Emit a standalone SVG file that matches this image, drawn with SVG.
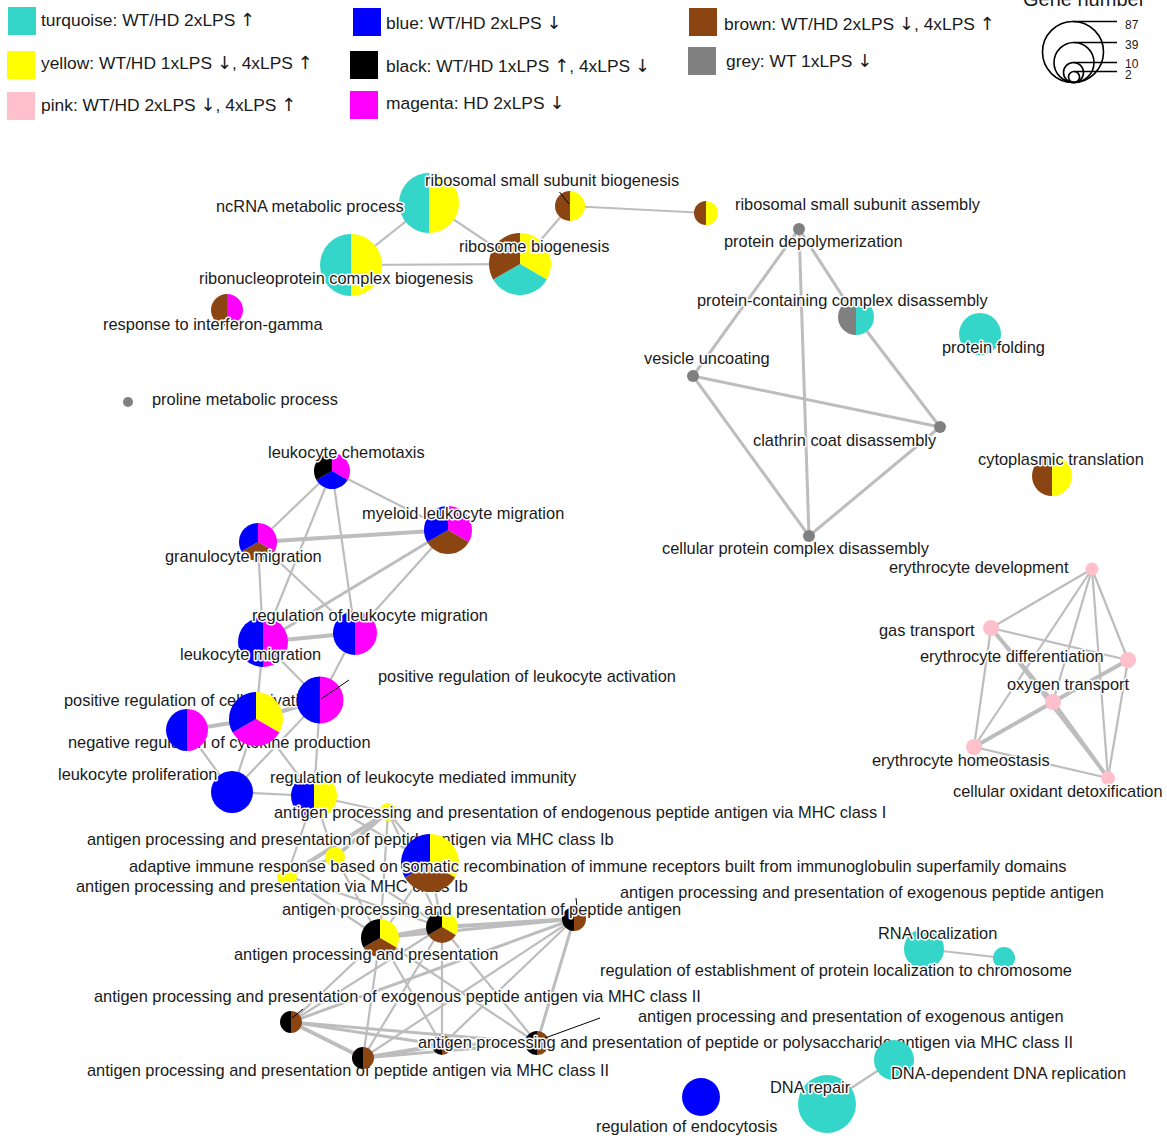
<svg xmlns="http://www.w3.org/2000/svg" width="1167" height="1136" viewBox="0 0 1167 1136">
<style>
text{font-family:"Liberation Sans",Arial,sans-serif;fill:#1a1a1a}
.lb{font-size:16.4px;stroke:#fff;stroke-width:3px;stroke-linejoin:round;paint-order:stroke}
.lg{font-size:17.4px}
.ar{font-family:"DejaVu Sans",sans-serif;font-size:18px}
.tq{fill:#33D6C8}.ye{fill:#FFFF00}.pk{fill:#FFC0CB}.bl{fill:#0000FF}.bk{fill:#000000}.mg{fill:#FF00FF}.br{fill:#8B4513}.gy{fill:#808080}
#edges line{stroke:#BDBDBD;stroke-width:2.2;stroke-linecap:round}
#edges line.t{stroke-width:4}
#edges line.m{stroke-width:3}
.ld{stroke:#000;stroke-width:1}
.gc{fill:none;stroke:#000;stroke-width:1.6}
.gl{stroke:#000;stroke-width:1.4}
</style>
<defs>
<circle id="c" r="1"/>
<path id="hl" d="M0,1A1,1 0 0 1 0,-1Z"/>
<path id="hr" d="M0,-1A1,1 0 0 1 0,1Z"/>
<path id="s1" d="M0,0L0,-1A1,1 0 0 1 .866,.5Z"/>
<path id="s2" d="M0,0L.866,.5A1,1 0 0 1 -.866,.5Z"/>
<path id="s3" d="M0,0L-.866,.5A1,1 0 0 1 0,-1Z"/>
</defs>
<rect width="1167" height="1136" fill="#fff"/>

<g id="legend">
<rect x="8" y="7" width="28" height="28" class="tq"/><text class="lg" x="41" y="26">turquoise: WT/HD 2xLPS <tspan class="ar">↑</tspan></text>
<rect x="7" y="51" width="28" height="28" class="ye"/><text class="lg" x="41" y="69">yellow: WT/HD 1xLPS <tspan class="ar">↓</tspan>, 4xLPS <tspan class="ar">↑</tspan></text>
<rect x="7" y="92" width="28" height="28" class="pk"/><text class="lg" x="41" y="111">pink: WT/HD 2xLPS <tspan class="ar">↓</tspan>, 4xLPS <tspan class="ar">↑</tspan></text>
<rect x="353" y="8" width="28" height="28" class="bl"/><text class="lg" x="386" y="29">blue: WT/HD 2xLPS <tspan class="ar">↓</tspan></text>
<rect x="350" y="51" width="28" height="28" class="bk"/><text class="lg" x="386" y="72">black: WT/HD 1xLPS <tspan class="ar">↑</tspan>, 4xLPS <tspan class="ar">↓</tspan></text>
<rect x="350" y="91" width="28" height="28" class="mg"/><text class="lg" x="386" y="109">magenta: HD 2xLPS <tspan class="ar">↓</tspan></text>
<rect x="689" y="8" width="28" height="28" class="br"/><text class="lg" x="724" y="30">brown: WT/HD 2xLPS <tspan class="ar">↓</tspan>, 4xLPS <tspan class="ar">↑</tspan></text>
<rect x="688" y="47" width="28" height="28" class="gy"/><text class="lg" x="726" y="67">grey: WT 1xLPS <tspan class="ar">↓</tspan></text>
</g>

<g id="size-legend">
<text x="1023" y="6" style="font-size:20px">Gene number</text>
<circle class="gc" cx="1073" cy="52" r="30.5"/>
<circle class="gc" cx="1074" cy="62.5" r="20"/>
<circle class="gc" cx="1073.5" cy="72.5" r="10"/>
<circle class="gc" cx="1074" cy="77" r="5.5"/>
<line class="gl" x1="1073" y1="21.5" x2="1117" y2="21.5"/>
<line class="gl" x1="1074" y1="42.5" x2="1117" y2="42.5"/>
<line class="gl" x1="1073.5" y1="62.5" x2="1117" y2="62.5"/>
<line class="gl" x1="1074" y1="71.5" x2="1117" y2="71.5"/>
<text x="1125" y="29" style="font-size:12px">87</text>
<text x="1125" y="49" style="font-size:12px">39</text>
<text x="1125" y="68" style="font-size:12px">10</text>
<text x="1125" y="79" style="font-size:12px">2</text>
</g>

<g id="edges">
<line x1="429" y1="203" x2="351" y2="265"/>
<line x1="429" y1="203" x2="520" y2="264"/>
<line x1="351" y1="265" x2="520" y2="264"/>
<line x1="520" y1="264" x2="570" y2="206"/>
<line x1="570" y1="206" x2="706" y2="213"/>

<line class="m" x1="799" y1="229" x2="693" y2="376"/>
<line class="m" x1="799" y1="229" x2="809" y2="536"/>
<line class="m" x1="799" y1="229" x2="856" y2="317"/>
<line class="m" x1="856" y1="317" x2="940" y2="427"/>
<line class="m" x1="693" y1="376" x2="940" y2="427"/>
<line class="m" x1="693" y1="376" x2="809" y2="536"/>
<line class="m" x1="940" y1="427" x2="809" y2="536"/>

<line x1="1092" y1="569" x2="991" y2="628"/>
<line x1="1092" y1="569" x2="1128" y2="660"/>
<line x1="1092" y1="569" x2="1053" y2="702"/>
<line x1="1092" y1="569" x2="974" y2="747"/>
<line x1="1092" y1="569" x2="1108" y2="778"/>
<line x1="991" y1="628" x2="1128" y2="660"/>
<line x1="991" y1="628" x2="974" y2="747"/>
<line class="t" x1="991" y1="628" x2="1053" y2="702"/>
<line x1="991" y1="628" x2="1108" y2="778"/>
<line class="t" x1="1128" y1="660" x2="1053" y2="702"/>
<line x1="1128" y1="660" x2="1108" y2="778"/>
<line class="t" x1="1053" y1="702" x2="974" y2="747"/>
<line class="t" x1="1053" y1="702" x2="1108" y2="778"/>
<line x1="974" y1="747" x2="1108" y2="778"/>

<line x1="332" y1="471" x2="258" y2="542"/>
<line x1="332" y1="471" x2="448" y2="530"/>
<line x1="332" y1="471" x2="263" y2="642"/>
<line x1="332" y1="471" x2="355" y2="633"/>
<line class="t" x1="258" y1="542" x2="448" y2="530"/>
<line x1="258" y1="542" x2="263" y2="642"/>
<line x1="258" y1="542" x2="355" y2="633"/>
<line class="m" x1="448" y1="530" x2="263" y2="642"/>
<line x1="448" y1="530" x2="355" y2="633"/>
<line class="t" x1="263" y1="642" x2="355" y2="633"/>
<line x1="263" y1="642" x2="256" y2="719"/>
<line x1="263" y1="642" x2="320" y2="700"/>
<line x1="355" y1="633" x2="320" y2="700"/>
<line class="t" x1="256" y1="719" x2="320" y2="700"/>
<line class="t" x1="256" y1="719" x2="187" y2="730"/>
<line x1="187" y1="730" x2="232" y2="792"/>
<line x1="256" y1="719" x2="232" y2="792"/>
<line x1="320" y1="700" x2="232" y2="792"/>
<line x1="320" y1="700" x2="314" y2="796"/>
<line x1="256" y1="719" x2="314" y2="796"/>
<line x1="232" y1="792" x2="314" y2="796"/>

<line x1="314" y1="796" x2="388" y2="812"/>
<line x1="314" y1="796" x2="335" y2="857"/>
<line x1="314" y1="796" x2="287" y2="876"/>
<line x1="314" y1="796" x2="430" y2="863"/>
<line class="t" x1="388" y1="812" x2="335" y2="857"/>
<line class="t" x1="388" y1="812" x2="287" y2="876"/>
<line x1="388" y1="812" x2="380" y2="938"/>
<line x1="388" y1="812" x2="442" y2="927"/>
<line x1="388" y1="812" x2="430" y2="863"/>
<line class="m" x1="335" y1="857" x2="287" y2="876"/>
<line x1="335" y1="857" x2="380" y2="938"/>
<line x1="335" y1="857" x2="442" y2="927"/>
<line x1="287" y1="876" x2="380" y2="938"/>
<line x1="287" y1="876" x2="442" y2="927"/>
<line x1="430" y1="863" x2="380" y2="938"/>
<line x1="430" y1="863" x2="442" y2="927"/>

<line class="t" x1="380" y1="938" x2="442" y2="927"/>
<line class="m" x1="380" y1="938" x2="574" y2="919"/>
<line x1="380" y1="938" x2="291" y2="1022"/>
<line x1="380" y1="938" x2="363" y2="1058"/>
<line x1="380" y1="938" x2="442" y2="1045"/>
<line x1="380" y1="938" x2="537" y2="1043"/>
<line class="t" x1="442" y1="927" x2="574" y2="919"/>
<line x1="442" y1="927" x2="291" y2="1022"/>
<line x1="442" y1="927" x2="363" y2="1058"/>
<line x1="442" y1="927" x2="442" y2="1045"/>
<line x1="442" y1="927" x2="537" y2="1043"/>
<line class="m" x1="574" y1="919" x2="291" y2="1022"/>
<line x1="574" y1="919" x2="363" y2="1058"/>
<line x1="574" y1="919" x2="442" y2="1045"/>
<line class="m" x1="574" y1="919" x2="537" y2="1043"/>
<line class="t" x1="291" y1="1022" x2="363" y2="1058"/>
<line class="m" x1="291" y1="1022" x2="442" y2="1045"/>
<line class="m" x1="291" y1="1022" x2="537" y2="1043"/>
<line class="t" x1="363" y1="1058" x2="442" y2="1045"/>
<line class="m" x1="363" y1="1058" x2="537" y2="1043"/>
<line class="m" x1="442" y1="1045" x2="537" y2="1043"/>

<line x1="924" y1="949" x2="1004" y2="958"/>
<line x1="827" y1="1104" x2="894" y2="1060"/>
</g>

<g id="n-ncrna"><g transform="translate(429,203) scale(30)"><use href="#hl" class="tq"/><use href="#hr" class="ye"/></g></g>
<g id="n-rnp"><g transform="translate(351,265) scale(31)"><use href="#hl" class="tq"/><use href="#hr" class="ye"/></g></g>
<g id="n-rb"><g transform="translate(520,264) scale(31)"><use href="#s1" class="ye"/><use href="#s2" class="tq"/><use href="#s3" class="br"/></g></g>
<g id="n-rssb"><g transform="translate(570,206) scale(15)"><use href="#hl" class="br"/><use href="#hr" class="ye"/></g><line class="ld" x1="559.5" y1="192" x2="569" y2="204"/></g>
<g id="n-rssa"><g transform="translate(706,213) scale(12)"><use href="#hl" class="br"/><use href="#hr" class="ye"/></g><text class="lb" x="735" y="210">ribosomal small subunit assembly</text></g>
<g id="l-top">
<text class="lb" x="216" y="212">ncRNA metabolic process</text>
<text class="lb" x="425" y="186">ribosomal small subunit biogenesis</text>
<text class="lb" x="459" y="252">ribosome biogenesis</text>
<text class="lb" x="199" y="284">ribonucleoprotein complex biogenesis</text>
</g>
<g id="n-ifng"><g transform="translate(227,310) scale(16)"><use href="#hl" class="br"/><use href="#hr" class="mg"/></g><text class="lb" x="103" y="330">response to interferon-gamma</text></g>
<g id="n-proline"><circle cx="128" cy="402" r="5" class="gy"/><text class="lb" x="152" y="405">proline metabolic process</text></g>

<g id="n-pdepoly"><circle cx="799" cy="229" r="6" class="gy"/><text class="lb" x="724" y="247">protein depolymerization</text></g>
<g id="n-pccd"><g transform="translate(856,317) scale(18)"><use href="#hl" class="gy"/><use href="#hr" class="tq"/></g><text class="lb" x="697" y="306">protein-containing complex disassembly</text></g>
<g id="n-vu"><circle cx="693" cy="376" r="6" class="gy"/><text class="lb" x="644" y="364">vesicle uncoating</text></g>
<g id="n-ccd"><circle cx="940" cy="427" r="6" class="gy"/><text class="lb" x="753" y="446">clathrin coat disassembly</text></g>
<g id="n-cpcd"><circle cx="809" cy="536" r="6" class="gy"/><text class="lb" x="662" y="554">cellular protein complex disassembly</text></g>
<g id="n-pf"><circle cx="980" cy="334" r="21" class="tq"/><text class="lb" x="942" y="353">protein folding</text></g>
<g id="n-ct"><g transform="translate(1052,476) scale(20)"><use href="#hl" class="br"/><use href="#hr" class="ye"/></g><text class="lb" x="978" y="465">cytoplasmic translation</text></g>

<g id="n-ed"><circle cx="1092" cy="569" r="6.5" class="pk"/><text class="lb" x="889" y="573">erythrocyte development</text></g>
<g id="n-gt"><circle cx="991" cy="628" r="8" class="pk"/><text class="lb" x="879" y="636">gas transport</text></g>
<g id="n-ediff"><circle cx="1128" cy="660" r="8" class="pk"/><text class="lb" x="920" y="662">erythrocyte differentiation</text></g>
<g id="n-ot"><circle cx="1053" cy="702" r="8" class="pk"/><text class="lb" x="1007" y="690">oxygen transport</text></g>
<g id="n-eh"><circle cx="974" cy="747" r="8" class="pk"/><text class="lb" x="872" y="766">erythrocyte homeostasis</text></g>
<g id="n-cod"><circle cx="1108" cy="778" r="7" class="pk"/><text class="lb" x="953" y="797">cellular oxidant detoxification</text></g>

<g id="n-lc"><g transform="translate(332,471) scale(18)"><use href="#s1" class="mg"/><use href="#s2" class="bl"/><use href="#s3" class="bk"/></g><text class="lb" x="268" y="458">leukocyte chemotaxis</text></g>
<g id="n-gm"><g transform="translate(258,542) scale(19)"><use href="#s1" class="mg"/><use href="#s2" class="br"/><use href="#s3" class="bl"/></g><text class="lb" x="165" y="562">granulocyte migration</text></g>
<g id="n-mlm"><g transform="translate(448,530) scale(24)"><use href="#s1" class="mg"/><use href="#s2" class="br"/><use href="#s3" class="bl"/></g><text class="lb" x="362" y="519">myeloid leukocyte migration</text></g>
<g id="n-lm"><g transform="translate(263,642) scale(25)"><use href="#hl" class="bl"/><use href="#hr" class="mg"/></g><text class="lb" x="180" y="660">leukocyte migration</text></g>
<g id="n-rlm"><g transform="translate(355,633) scale(22)"><use href="#hl" class="bl"/><use href="#hr" class="mg"/></g><text class="lb" x="252" y="621">regulation of leukocyte migration</text></g>
<g id="n-nr"><text class="lb" x="68" y="748">negative regulation of cytokine production</text><g transform="translate(187,730) scale(21)"><use href="#hl" class="bl"/><use href="#hr" class="mg"/></g></g>
<g id="n-prca"><text class="lb" x="64" y="706">positive regulation of cell activation</text><g transform="translate(256,719) scale(27)"><use href="#s1" class="ye"/><use href="#s2" class="mg"/><use href="#s3" class="bl"/></g></g>
<g id="n-prla"><g transform="translate(320,700) scale(23.5)"><use href="#hl" class="bl"/><use href="#hr" class="mg"/></g><line class="ld" x1="321" y1="699" x2="349" y2="680"/><text class="lb" x="378" y="682">positive regulation of leukocyte activation</text></g>
<g id="n-lp"><circle cx="232" cy="792" r="21" class="bl"/><text class="lb" x="58" y="780">leukocyte proliferation</text></g>
<g id="n-rlmi"><g transform="translate(314,796) scale(23)"><use href="#hl" class="bl"/><use href="#hr" class="ye"/></g><text class="lb" x="270" y="783">regulation of leukocyte mediated immunity</text></g>

<g id="n-end"><circle cx="388" cy="812" r="9" class="ye"/><text class="lb" x="274" y="818">antigen processing and presentation of endogenous peptide antigen via MHC class I</text></g>
<g id="n-ib1"><text class="lb" x="87" y="845">antigen processing and presentation of peptide antigen via MHC class Ib</text><circle cx="335" cy="857" r="10" class="ye"/></g>
<g id="n-ib2"><circle cx="287" cy="876" r="10" class="ye"/><text class="lb" x="76" y="892">antigen processing and presentation via MHC class Ib</text></g>
<g id="n-ada"><g transform="translate(430,863) scale(29)"><use href="#s1" class="ye"/><use href="#s2" class="br"/><use href="#s3" class="bl"/></g><text class="lb" x="129" y="872">adaptive immune response based on somatic recombination of immune receptors built from immunoglobulin superfamily domains</text></g>
<g id="n-epa"><g transform="translate(574,919) scale(12)"><use href="#hl" class="bk"/><use href="#hr" class="br"/></g><line class="ld" x1="576" y1="898" x2="577" y2="907"/><text class="lb" x="620" y="898">antigen processing and presentation of exogenous peptide antigen</text></g>
<g id="n-app"><g transform="translate(380,938) scale(19)"><use href="#s1" class="ye"/><use href="#s2" class="br"/><use href="#s3" class="bk"/></g></g>
<g id="n-pa"><g transform="translate(442,927) scale(16)"><use href="#s1" class="ye"/><use href="#s2" class="br"/><use href="#s3" class="bk"/></g><text class="lb" x="282" y="915">antigen processing and presentation of peptide antigen</text></g>
<g id="l-app"><text class="lb" x="234" y="960">antigen processing and presentation</text></g>
<g id="n-epa2"><g transform="translate(291,1022) scale(11)"><use href="#hl" class="bk"/><use href="#hr" class="br"/></g><line class="ld" x1="292" y1="1018" x2="303" y2="1009"/><text class="lb" x="94" y="1002">antigen processing and presentation of exogenous peptide antigen via MHC class II</text></g>
<g id="n-pa2"><text class="lb" x="87" y="1076">antigen processing and presentation of peptide antigen via MHC class II</text><g transform="translate(363,1058) scale(11)"><use href="#hl" class="bk"/><use href="#hr" class="br"/></g></g>
<g id="n-ea"><g transform="translate(537,1043) scale(12)"><use href="#hl" class="bk"/><use href="#hr" class="br"/></g><line class="ld" x1="545" y1="1038" x2="600" y2="1018"/><text class="lb" x="638" y="1022">antigen processing and presentation of exogenous antigen</text></g>
<g id="n-ppa2"><g transform="translate(442,1045) scale(10)"><use href="#hl" class="bk"/><use href="#hr" class="br"/></g><text class="lb" x="418" y="1048">antigen processing and presentation of peptide or polysaccharide antigen via MHC class II</text></g>

<g id="n-rnaloc"><circle cx="924" cy="949" r="20" class="tq"/><text class="lb" x="878" y="939">RNA localization</text></g>
<g id="n-repl"><circle cx="1004" cy="958" r="11" class="tq"/><text class="lb" x="600" y="976">regulation of establishment of protein localization to chromosome</text></g>
<g id="n-dnarep"><circle cx="894" cy="1060" r="20" class="tq"/><text class="lb" x="891" y="1079">DNA-dependent DNA replication</text></g>
<g id="n-dnarepair"><circle cx="827" cy="1104" r="29" class="tq"/><text class="lb" x="770" y="1093">DNA repair</text></g>
<g id="n-endo"><circle cx="701" cy="1097" r="19" class="bl"/><text class="lb" x="596" y="1132">regulation of endocytosis</text></g>
</svg>
